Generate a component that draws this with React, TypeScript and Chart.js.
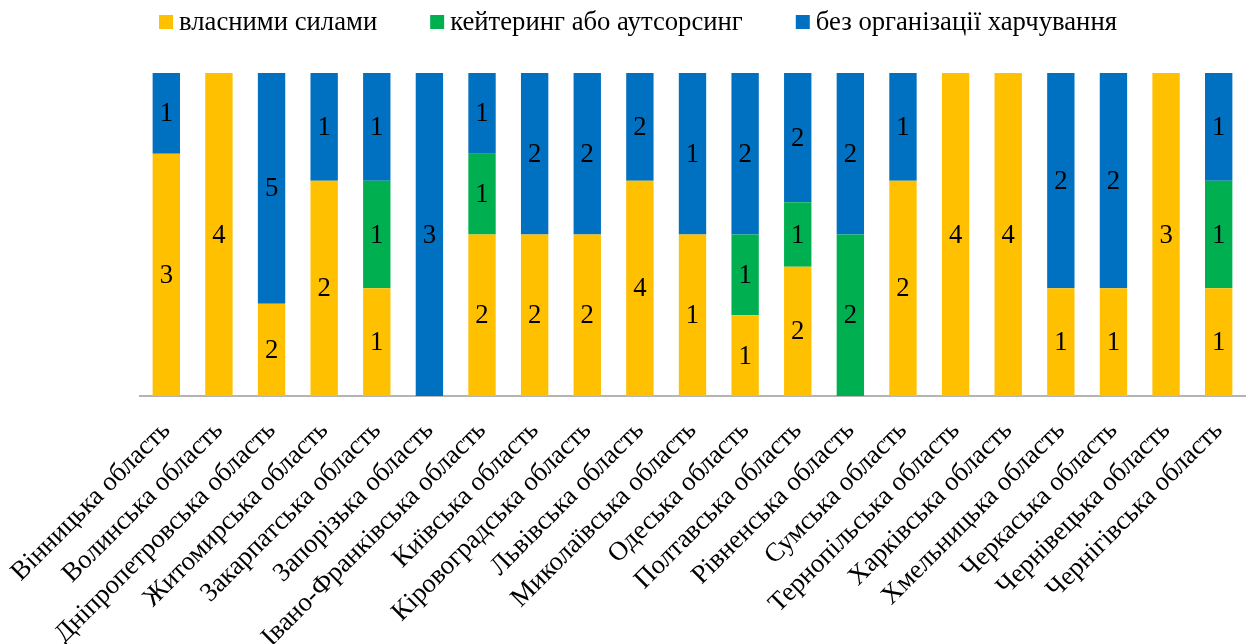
import React, { useEffect, useRef } from "react";
import { Chart, registerables } from "chart.js";

Chart.register(...registerables);

const regions = [
  "Вінницька область",
  "Волинська область",
  "Дніпропетровська область",
  "Житомирська область",
  "Закарпатська область",
  "Запорізька область",
  "Івано-Франківська область",
  "Київська область",
  "Кіровоградська область",
  "Львівська область",
  "Миколаївська область",
  "Одеська область",
  "Полтавська область",
  "Рівненська область",
  "Сумська область",
  "Тернопільська область",
  "Харківська область",
  "Хмельницька область",
  "Черкаська область",
  "Чернівецька область",
  "Чернігівська область",
];

const ownForces = [3, 4, 2, 2, 1, 0, 2, 2, 2, 4, 1, 1, 2, 0, 2, 4, 4, 1, 1, 3, 1];
const catering = [0, 0, 0, 0, 1, 0, 1, 0, 0, 0, 0, 1, 1, 2, 0, 0, 0, 0, 0, 0, 1];
const noFood = [1, 0, 5, 1, 1, 3, 1, 2, 2, 2, 1, 2, 2, 2, 1, 0, 0, 2, 2, 0, 1];

const seriesNames = ["власними силами", "кейтеринг або аутсорсинг", "без організації харчування"];
const seriesColors = ["#FFC000", "#00B050", "#0070C0"];

const FONT = "'Liberation Serif', 'Times New Roman', serif";
const FONT_SIZE = 26.7;

export default function App() {
  const ref = useRef<HTMLCanvasElement | null>(null);

  useEffect(() => {
    document.body.style.margin = "0";
    const counts = [ownForces, catering, noFood];
    const totals = regions.map((_, i) => counts.reduce((s, arr) => s + arr[i], 0));
    const pct = (arr: number[]) => arr.map((v, i) => (totals[i] ? (v / totals[i]) * 100 : 0));

    const labelPlugin = {
      id: "segLabels",
      afterDatasetsDraw(chart: any) {
        const ctx = chart.ctx;
        ctx.save();
        ctx.font = `${FONT_SIZE}px ${FONT}`;
        ctx.fillStyle = "#000";
        ctx.textAlign = "center";
        ctx.textBaseline = "middle";
        chart.data.datasets.forEach((ds: any, di: number) => {
          const meta = chart.getDatasetMeta(di);
          meta.data.forEach((bar: any, i: number) => {
            const v = counts[di][i];
            if (!v) return;
            const p = bar.getProps(["x", "y", "base"], true);
            ctx.fillText(String(v), p.x, (p.y + p.base) / 2 + 1);
          });
        });
        ctx.restore();
      },
    };

    const legendPlugin = {
      id: "customLegend",
      afterDraw(chart: any) {
        const ctx = chart.ctx;
        ctx.save();
        ctx.font = `${FONT_SIZE}px ${FONT}`;
        ctx.textBaseline = "middle";
        ctx.textAlign = "left";
        const box = 14;
        const gapText = 6;
        const gapItem = 53;
        const widths = seriesNames.map((n) => ctx.measureText(n).width);
        const total =
          widths.reduce((s, w) => s + w + box + gapText, 0) + gapItem * (seriesNames.length - 1);
        let x = 638 - total / 2;
        const cy = 22;
        seriesNames.forEach((n, k) => {
          ctx.fillStyle = seriesColors[k];
          ctx.fillRect(x, cy - box / 2, box, box);
          x += box + gapText;
          ctx.fillStyle = "#000";
          ctx.fillText(n, x, cy + 1);
          x += widths[k] + gapItem;
        });
        ctx.restore();
      },
    };

    const chart = new Chart(ref.current as HTMLCanvasElement, {
      type: "bar",
      data: {
        labels: regions,
        datasets: counts.map((arr, k) => ({
          label: seriesNames[k],
          data: pct(arr),
          backgroundColor: seriesColors[k],
          borderWidth: 0,
          barPercentage: 0.52,
          categoryPercentage: 1,
        })),
      },
      options: {
        animation: false,
        responsive: false,
        maintainAspectRatio: false,
        layout: { padding: { left: 140, right: 4, top: 73, bottom: 0 } },
        plugins: {
          legend: { display: false },
          tooltip: { enabled: false },
        },
        scales: {
          x: {
            stacked: true,
            grid: { display: false, drawTicks: false },
            border: { display: true, color: "#B4B4B4", width: 2 },
            afterFit(scale: any) {
              scale.height = 248;
              scale.paddingLeft = 0;
              scale.paddingRight = 0;
            },
            ticks: {
              minRotation: 45,
              maxRotation: 45,
              autoSkip: false,
              color: "#000",
              padding: 19,
              font: { family: FONT, size: FONT_SIZE },
            },
          },
          y: {
            stacked: true,
            display: false,
            min: 0,
            max: 100,
          },
        },
      },
      plugins: [labelPlugin, legendPlugin],
    });
    return () => chart.destroy();
  }, []);

  return <canvas ref={ref} width={1249} height={644} style={{ display: "block" }} />;
}
